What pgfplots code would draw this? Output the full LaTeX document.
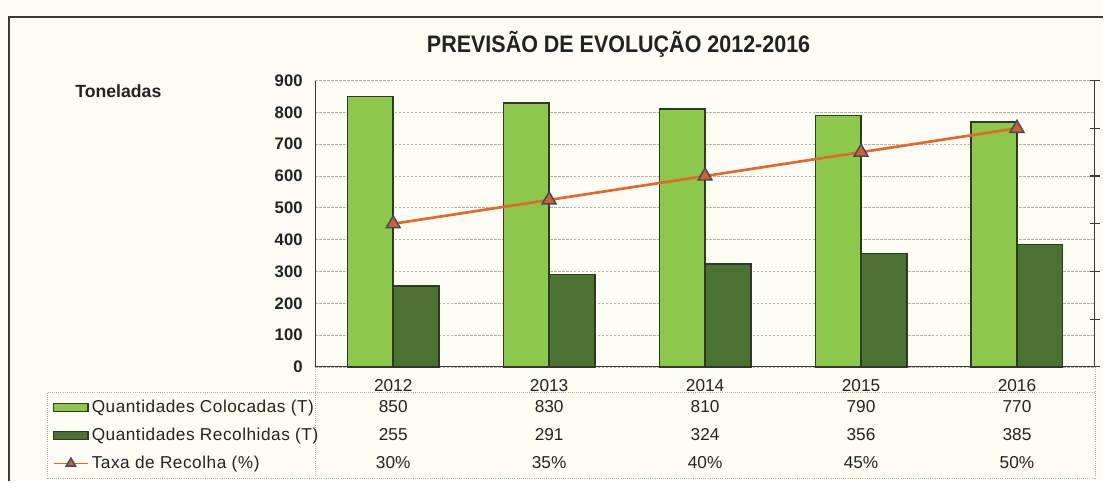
\documentclass[border=0pt]{standalone}
\usepackage{pgfplots}
\pgfplotsset{compat=1.18}
\usepackage{fontspec}
\setmainfont{Liberation Sans}
\newfontfamily\legfont[LetterSpace=3]{Liberation Sans}
\definecolor{bg}{HTML}{FEFDF4}
\definecolor{txt}{HTML}{222222}
\definecolor{lightg}{HTML}{8CC84A}
\definecolor{darkg}{HTML}{4C7233}
\definecolor{barborder}{HTML}{2E3A25}
\definecolor{linec}{HTML}{E2692B}
\definecolor{markfill}{HTML}{D35F2A}
\definecolor{markdraw}{HTML}{3C4A6E}
\definecolor{gridc}{HTML}{AEB5A6}
\definecolor{axisc}{HTML}{3A3A3A}
\definecolor{tblc}{HTML}{A8B0A0}
\pgfplotsset{
  barlegend/.style={legend image code/.code={\draw[##1] (0pt,-3pt) rectangle (26pt,3pt);}},
  linelegend/.style={legend image code/.code={\draw[mark repeat=2, mark phase=2, ##1, line width=0.9pt, mark size=4pt] plot coordinates {(0pt,0pt) (13pt,0pt) (26pt,0pt)};}},
}
\begin{document}
\begin{tikzpicture}
\fill[bg] (0,0) rectangle (831.75pt,363pt);
\draw[axisc, line width=1.4pt] (7.1pt,0) -- (7.1pt,350.25pt) -- (831.75pt,350.25pt);
\node[txt, font=\bfseries\fontsize{18}{20}\selectfont] at (466.5pt,329.25pt) {\scalebox{0.9}[1]{PREVISÃO DE EVOLUÇÃO 2012-2016}};
\node[txt, font=\bfseries\fontsize{13.3}{15}\selectfont] at (89.25pt,294pt) {Toneladas};
% data table frame
\begin{scope}[tblc, line width=0.6pt, densely dotted]
\draw (36pt,66.75pt) -- (825.75pt,66.75pt);
\draw (36pt,2.25pt) -- (825.75pt,2.25pt);
\draw (36pt,2.25pt) -- (36pt,66.75pt);
\draw (237.75pt,2.25pt) -- (237.75pt,86.25pt);
\draw (825.75pt,2.25pt) -- (825.75pt,86.25pt);
\end{scope}
\begin{axis}[
  at={(237.75pt,86.25pt)}, anchor=south west,
  scale only axis, width=588pt, height=216pt,
  xmin=-0.5, xmax=4.5, ymin=0, ymax=900,
  ytick={0,100,...,900},
  xtick={0,1,2,3,4},
  xticklabels={2012,2013,2014,2015,2016},
  axis x line*=bottom, axis y line*=left,
  axis line style={draw=axisc, line width=0.8pt},
  tick style={draw=none},
  ymajorgrids,
  grid style={gridc, line width=0.6pt, dash pattern=on 2pt off 1pt},
  ybar=0pt, bar width=34.5pt,
  clip=false,
  /pgf/number format/assume math mode=true,
  /pgf/number format/1000 sep={},
  yticklabel style={txt, font=\bfseries\fontsize{12.6}{14}\selectfont, xshift=-6pt},
  xticklabel style={txt, font=\fontsize{13}{15}\selectfont, anchor=base, yshift=-14.4pt},
]
\addplot[fill=lightg, draw=barborder, line width=1.1pt] coordinates {(0,850) (1,830) (2,810) (3,790) (4,770)};
\addplot[fill=darkg, draw=barborder, line width=1.1pt] coordinates {(0,255) (1,291) (2,324) (3,356) (4,385)};
\begin{scope}[every node/.style={txt, font=\fontsize{13}{15}\selectfont, anchor=base}]
\node[yshift=-34.65pt] at (axis cs:0,0) {850};
\node[yshift=-34.65pt] at (axis cs:1,0) {830};
\node[yshift=-34.65pt] at (axis cs:2,0) {810};
\node[yshift=-34.65pt] at (axis cs:3,0) {790};
\node[yshift=-34.65pt] at (axis cs:4,0) {770};
\node[yshift=-55.65pt] at (axis cs:0,0) {255};
\node[yshift=-55.65pt] at (axis cs:1,0) {291};
\node[yshift=-55.65pt] at (axis cs:2,0) {324};
\node[yshift=-55.65pt] at (axis cs:3,0) {356};
\node[yshift=-55.65pt] at (axis cs:4,0) {385};
\node[yshift=-76.65pt] at (axis cs:0,0) {30\%};
\node[yshift=-76.65pt] at (axis cs:1,0) {35\%};
\node[yshift=-76.65pt] at (axis cs:2,0) {40\%};
\node[yshift=-76.65pt] at (axis cs:3,0) {45\%};
\node[yshift=-76.65pt] at (axis cs:4,0) {50\%};
\end{scope}
\end{axis}
\begin{axis}[
  at={(237.75pt,86.25pt)}, anchor=south west,
  scale only axis, width=588pt, height=216pt,
  xmin=-0.5, xmax=4.5, ymin=0, ymax=60,
  axis x line=none, axis y line*=right,
  axis line style={draw=axisc, line width=0.8pt},
  ytick={0,10,...,60}, yticklabels={},
  tick align=center, major tick length=7.5pt,
  ytick style={draw=axisc, line width=0.8pt},
  clip=false,
  legend style={at={(-0.3367,-0.1042)}, anchor=north west, draw=none, fill=none,
    inner sep=0pt, row sep=5pt, column sep=2.25pt,
    nodes={inner sep=0pt, text height=12pt, text depth=4pt, txt, font=\legfont\fontsize{13}{15}\selectfont}},
  legend cell align=left,
]
\addlegendimage{fill=lightg, draw=barborder, line width=1pt, barlegend}
\addlegendentry{Quantidades Colocadas (T)}
\addlegendimage{fill=darkg, draw=barborder, line width=1pt, barlegend}
\addlegendentry{Quantidades Recolhidas (T)}
\addplot[linec, line width=2pt, mark=triangle*, mark size=6pt,
  mark options={fill=markfill, draw=markdraw, line width=1.1pt}, linelegend]
  coordinates {(0,30) (1,35) (2,40) (3,45) (4,50)};
\addlegendentry{Taxa de Recolha (\%)}
\end{axis}
\end{tikzpicture}
\end{document}
